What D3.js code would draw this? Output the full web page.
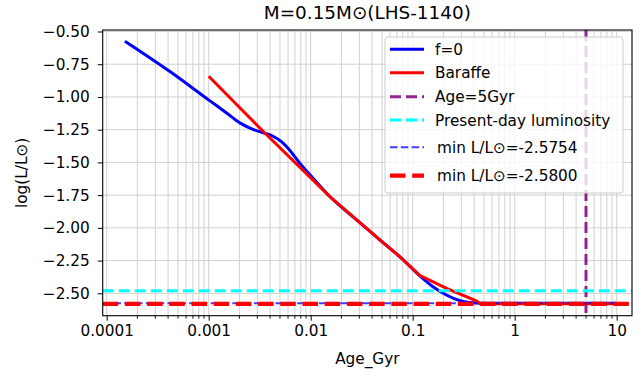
<!DOCTYPE html>
<html>
<head>
<meta charset="utf-8">
<script src="https://cdn.jsdelivr.net/npm/d3@7"></script>
<style>
  body { margin: 0; background: #fff; }
  text { font-family: "DejaVu Sans", sans-serif; fill: #000; }
</style>
</head>
<body>
<div id="hook"></div>
<script>
// f=0 track (age in Gyr, log L/Lsun)
var blueAge = [0.000151, 0.000417, 0.00103, 0.00151, 0.00204, 0.00275, 0.00343, 0.00427, 0.0052, 0.00603, 0.00785, 0.0106, 0.0144, 0.0316, 0.0479, 0.0759, 0.117, 0.158, 0.214, 0.288, 0.36, 0.5, 10];
var blueLum = [-0.574, -0.806, -1.03, -1.124, -1.200, -1.249, -1.274, -1.300, -1.343, -1.394, -1.508, -1.623, -1.737, -1.971, -2.094, -2.225, -2.365, -2.450, -2.513, -2.555, -2.570, -2.5754, -2.5754];
// Baraffe track
var baraffeAge = [0.001, 0.0033, 0.0155, 0.048, 0.076, 0.117, 0.215, 0.42, 0.46, 10];
var baraffeLum = [-0.842, -1.25, -1.763, -2.094, -2.225, -2.362, -2.462, -2.558, -2.58, -2.58];

var ageMark = 5;
var presentLum = -2.48;
var minBlue = -2.5754;
var minRed = -2.58;

var xTicks = [0.0001, 0.001, 0.01, 0.1, 1, 10];
var xTickLabels = ["0.0001", "0.001", "0.01", "0.1", "1", "10"];
var yTicks = [-0.5, -0.75, -1.0, -1.25, -1.5, -1.75, -2.0, -2.25, -2.5];
var legendLabels = ["f=0", "Baraffe", "Age=5Gyr", "Present-day luminosity", "min L/L\u2299=-2.5754", "min L/L\u2299=-2.5800"];

var w = 644, h = 377;
var pLeft = 102.7, pRight = 632, pTop = 30, pBottom = 315.7;
var fs = 15.3;

var svg = d3.select("#hook").append("svg")
    .attr("width", w).attr("height", h);

var x = d3.scaleLog().domain([Math.pow(10, -4.039), Math.pow(10, 1.15)]).range([pLeft, pRight]);
var y = d3.scaleLinear().domain([-2.671, -0.4885]).range([pBottom, pTop]);

// grid: major + minor on x, major on y
var minor = [];
for (var e = -5; e <= 1; e++) {
    for (var k = 2; k <= 9; k++) {
        var v = k * Math.pow(10, e);
        if (v > x.domain()[0] && v < x.domain()[1]) minor.push(v);
    }
}
var grid = svg.append("g").attr("stroke", "#d0d0d0").attr("stroke-width", 1);
grid.selectAll(".vg").data(xTicks.concat(minor)).enter().append("line")
    .attr("x1", function (d) { return x(d); }).attr("x2", function (d) { return x(d); })
    .attr("y1", pTop).attr("y2", pBottom);
grid.selectAll(".hg").data(yTicks).enter().append("line")
    .attr("x1", pLeft).attr("x2", pRight)
    .attr("y1", function (d) { return y(d); }).attr("y2", function (d) { return y(d); });

svg.append("clipPath").attr("id", "clip")
    .append("rect").attr("x", pLeft).attr("y", pTop).attr("width", pRight - pLeft).attr("height", pBottom - pTop);
var plot = svg.append("g").attr("clip-path", "url(#clip)");

var blueLine = d3.line()
    .x(function (d, i) { return x(blueAge[i]); })
    .y(function (d) { return y(d); })
    .curve(d3.curveMonotoneX);
var redLine = d3.line()
    .x(function (d, i) { return x(baraffeAge[i]); })
    .y(function (d) { return y(d); });

plot.append("path").datum(blueLum).attr("d", blueLine)
    .attr("fill", "none").attr("stroke", "#0000ff").attr("stroke-width", 3);
plot.append("path").datum(baraffeLum).attr("d", redLine)
    .attr("fill", "none").attr("stroke", "#ff0000").attr("stroke-width", 3);

// reference lines
var styles = [
    { color: "#800080", width: 3, dash: "11,5", opacity: 0.85 },
    { color: "#00ffff", width: 3, dash: "11,5", opacity: 1 },
    { color: "#0000ff", width: 2, dash: "7.5,3.3", opacity: 0.75 },
    { color: "#ff0000", width: 4.2, dash: "15.5,6.7", opacity: 1 }
];
plot.append("line")
    .attr("x1", x(ageMark)).attr("x2", x(ageMark)).attr("y1", pTop).attr("y2", pBottom)
    .attr("stroke", styles[0].color).attr("stroke-width", styles[0].width)
    .attr("stroke-dasharray", styles[0].dash).attr("opacity", styles[0].opacity);
plot.selectAll(".hl").data([presentLum, minBlue, minRed]).enter().append("line")
    .attr("x1", pLeft).attr("x2", pRight)
    .attr("y1", function (d) { return y(d); }).attr("y2", function (d) { return y(d); })
    .attr("stroke", function (d, i) { return styles[i + 1].color; })
    .attr("stroke-width", function (d, i) { return styles[i + 1].width; })
    .attr("stroke-dasharray", function (d, i) { return styles[i + 1].dash; })
    .attr("opacity", function (d, i) { return styles[i + 1].opacity; });

// axes
var xAxis = d3.axisBottom(x).tickValues(xTicks)
    .tickFormat(function (d, i) { return xTickLabels[i]; })
    .tickSize(5).tickPadding(5);
var gx = svg.append("g").attr("transform", "translate(0," + pBottom + ")").call(xAxis);
gx.select(".domain").remove();
gx.selectAll(".minor").data(minor).enter().append("line")
    .attr("x1", function (d) { return x(d); }).attr("x2", function (d) { return x(d); })
    .attr("y1", 0).attr("y2", 3).attr("stroke", "#000").attr("stroke-width", 0.9);
gx.selectAll("text").attr("font-size", fs).style("font-family", "DejaVu Sans").attr("fill", "#000").attr("y", 9).attr("dy", "0.71em");

var yAxis = d3.axisLeft(y).tickValues(yTicks)
    .tickFormat(function (d) { return d3.format(".2f")(d).replace("-", "\u2212"); })
    .tickSize(5).tickPadding(5);
var gy = svg.append("g").attr("transform", "translate(" + pLeft + ",0)").call(yAxis);
gy.select(".domain").remove();
gy.selectAll("text").attr("font-size", fs).style("font-family", "DejaVu Sans").attr("fill", "#000").attr("x", -13);

svg.append("rect").attr("x", pLeft).attr("y", pTop).attr("width", pRight - pLeft).attr("height", pBottom - pTop)
    .attr("fill", "none").attr("stroke", "#000").attr("stroke-width", 1.1);

// legend
var legend = svg.append("g");
legend.append("rect").attr("x", 385).attr("y", 37).attr("width", 238).attr("height", 156)
    .attr("rx", 3).attr("fill", "#fff").attr("fill-opacity", 0.8).attr("stroke", "#cccccc");
var rowY = [49.3, 72.7, 96.7, 120, 147.3, 175.7];
var handles = [
    { color: "#0000ff", width: 3, dash: null, opacity: 1 },
    { color: "#ff0000", width: 3, dash: null, opacity: 1 }
].concat(styles);
var rows = legend.selectAll(".row").data(legendLabels).enter().append("g")
    .attr("transform", function (d, i) { return "translate(0," + rowY[i] + ")"; });
rows.append("line").attr("x1", 390).attr("x2", 424).attr("y1", 0).attr("y2", 0)
    .attr("stroke", function (d, i) { return handles[i].color; })
    .attr("stroke-width", function (d, i) { return handles[i].width; })
    .attr("stroke-dasharray", function (d, i) { return handles[i].dash; })
    .attr("opacity", function (d, i) { return handles[i].opacity; });
rows.append("text").attr("x", function (d, i) { return i > 3 ? 437 : 435; }).attr("y", 5.5)
    .attr("font-size", fs).text(function (d) { return d; });

// title and labels
svg.append("text").attr("x", (pLeft + pRight) / 2).attr("y", 19).attr("text-anchor", "middle")
    .attr("font-size", 18.4).text("M=0.15M\u2299(LHS-1140)");
svg.append("text").attr("x", (pLeft + pRight) / 2).attr("y", 364).attr("text-anchor", "middle")
    .attr("font-size", fs).text("Age_Gyr");
svg.append("text").attr("transform", "translate(27," + ((pTop + pBottom) / 2) + ") rotate(-90)")
    .attr("text-anchor", "middle").attr("font-size", fs).text("log(L/L\u2299)");
</script>
</body>
</html>
